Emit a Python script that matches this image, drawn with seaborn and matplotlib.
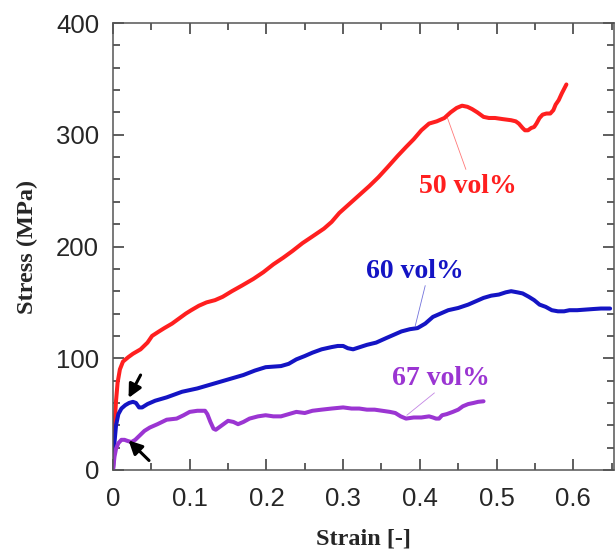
import numpy as np
import pandas as pd
import seaborn as sns
import matplotlib.pyplot as plt
from matplotlib.ticker import MultipleLocator

# Stress-strain curves
strain_50 = [0, 0.002, 0.004, 0.006, 0.009, 0.013, 0.02, 0.026, 0.036, 0.045, 0.051, 0.06, 0.067, 0.077, 0.087,
             0.095, 0.102, 0.112, 0.122, 0.133, 0.143, 0.155, 0.168, 0.183, 0.196, 0.209, 0.222, 0.234, 0.247,
             0.260, 0.275, 0.285, 0.295, 0.308, 0.321, 0.334, 0.346, 0.358, 0.371, 0.382, 0.392, 0.402, 0.412,
             0.422, 0.432, 0.440, 0.448, 0.455, 0.462, 0.468, 0.475, 0.483, 0.490, 0.498, 0.508, 0.519, 0.525,
             0.529, 0.534, 0.537, 0.541, 0.545, 0.549, 0.552, 0.556, 0.560, 0.565, 0.570, 0.574, 0.577, 0.581,
             0.585, 0.588, 0.591]
stress_50 = [0, 40, 62, 78, 90, 97, 101, 104, 108, 114, 120, 124, 127, 131, 136,
             140, 143, 147, 150, 152, 155, 160, 165, 171, 177, 184, 190, 196, 203,
             209, 216, 222, 230, 238, 246, 254, 262, 271, 281, 289, 296, 304, 310,
             312, 315, 320, 324, 326, 325, 323, 320, 316, 315, 315, 314, 313, 312,
             310, 306, 304, 304, 306, 307, 310, 315, 318, 319, 319, 322, 327, 331,
             337, 341, 345]

strain_60 = [0, 0.002, 0.004, 0.007, 0.011, 0.016, 0.021, 0.026, 0.030, 0.034, 0.038, 0.045, 0.055, 0.07,
             0.09, 0.11, 0.13, 0.15, 0.17, 0.185, 0.199, 0.219, 0.229, 0.239, 0.250, 0.260, 0.272, 0.285,
             0.293, 0.300, 0.306, 0.313, 0.322, 0.331, 0.343, 0.356, 0.366, 0.376, 0.387, 0.397, 0.407,
             0.417, 0.427, 0.437, 0.450, 0.463, 0.473, 0.483, 0.493, 0.503, 0.512, 0.519, 0.527, 0.534,
             0.542, 0.549, 0.556, 0.564, 0.572, 0.580, 0.588, 0.595, 0.605, 0.615, 0.625, 0.636, 0.648]
stress_60 = [0, 25, 40, 50, 55, 58, 60, 61, 60, 56, 56, 59, 62, 65,
             70, 73, 77, 81, 85, 89, 92, 93, 95, 99, 102, 105, 108, 110,
             111, 111, 109, 108, 110, 112, 114, 118, 121, 124, 126, 127, 131,
             137, 140, 143, 145, 148, 151, 154, 156, 157, 159, 160, 159, 158,
             155, 152, 148, 146, 143, 142, 142, 143, 143, 143.5, 144, 144.5, 144.5]

strain_67 = [0, 0.002, 0.004, 0.007, 0.011, 0.015, 0.019, 0.024, 0.029, 0.035, 0.041, 0.048, 0.058, 0.07,
             0.083, 0.092, 0.1, 0.11, 0.12, 0.123, 0.127, 0.131, 0.134, 0.138, 0.144, 0.150, 0.157, 0.163,
             0.170, 0.178, 0.189, 0.199, 0.209, 0.219, 0.229, 0.239, 0.250, 0.260, 0.272, 0.285, 0.300,
             0.311, 0.321, 0.331, 0.341, 0.351, 0.361, 0.368, 0.375, 0.382, 0.392, 0.402, 0.412, 0.417,
             0.421, 0.425, 0.429, 0.435, 0.443, 0.450, 0.456, 0.463, 0.470, 0.476, 0.483]
stress_67 = [0, 12, 19, 24, 27, 27, 26, 25, 27, 31, 35, 38, 41, 45,
             46, 49, 52, 53, 53, 50, 43, 37, 36, 38, 41, 44, 43, 41,
             43, 46, 48, 49, 48, 48, 50, 52, 51, 53, 54, 55, 56,
             55, 55, 54, 54, 53, 52, 51, 48, 46, 47, 47, 48, 47,
             46, 46, 49, 50, 52, 54, 57, 59, 60, 61, 61.5]

series_labels = ["50 vol%", "60 vol%", "67 vol%"]
series_colors = ["#ff1f1f", "#1414c4", "#9b35d2"]

df = pd.concat([
    pd.DataFrame({"strain": strain_50, "stress": stress_50, "series": series_labels[0]}),
    pd.DataFrame({"strain": strain_60, "stress": stress_60, "series": series_labels[1]}),
    pd.DataFrame({"strain": strain_67, "stress": stress_67, "series": series_labels[2]}),
], ignore_index=True)

sns.set_style("ticks")
plt.rcParams["font.family"] = ["Liberation Sans", "DejaVu Sans"]

fig = plt.figure(figsize=(6.15, 5.49), dpi=100)
ax = fig.add_axes([0.1837, 0.1439, 0.8146, 0.8142])

sns.lineplot(data=df, x="strain", y="stress", hue="series", hue_order=series_labels,
             palette=series_colors, sort=False, estimator=None, linewidth=2.9,
             legend=False, ax=ax)

ax.set_xlim(0, 0.653)
ax.set_ylim(0, 400)
ax.xaxis.set_major_locator(MultipleLocator(0.1))
ax.xaxis.set_minor_locator(MultipleLocator(0.05))
ax.yaxis.set_major_locator(MultipleLocator(100))
ax.yaxis.set_minor_locator(MultipleLocator(20))
ax.xaxis.set_major_formatter(plt.FuncFormatter(lambda v, p: "0" if abs(v) < 1e-9 else f"{v:.1f}"))
ax.tick_params(which="both", direction="in", top=True, right=True, color="#333333", width=1.1)
ax.tick_params(which="major", length=8, labelsize=18.5)
ax.tick_params(axis="x", which="major", pad=12)
ax.tick_params(axis="y", which="major", pad=10)
ax.tick_params(which="minor", length=5)
for s in ax.spines.values():
    s.set_color("#555555")
    s.set_linewidth(1.1)

ax.set_xlabel("Strain [-]", family="Liberation Serif", fontweight="bold", fontsize=17.5, labelpad=13)
ax.set_ylabel("Stress (MPa)", family="Liberation Serif", fontweight="bold", fontsize=17.5, labelpad=13)

# curve labels with thin leader lines
ann = [("50 vol%", (0.463, 254), (0.46, 269), (0.436, 315)),
       ("60 vol%", (0.394, 178), (0.407, 165), (0.394, 129)),
       ("67 vol%", (0.427, 82), (0.419, 69), (0.383, 49))]
for (txt, tpos, p0, p1), col in zip(ann, series_colors):
    ax.text(*tpos, txt, color=col, family="Liberation Serif", fontweight="bold",
            fontsize=20, ha="center", va="center")
    ax.plot([p0[0], p1[0]], [p0[1], p1[1]], color=col, lw=0.6, alpha=0.6)

# arrows marking the yield points
ax.annotate("", xy=(0.0203, 64.5), xytext=(0.036, 85),
            arrowprops=dict(arrowstyle="-|>", color="black", lw=2.2, mutation_scale=20,
                            shrinkA=0, shrinkB=0))
ax.annotate("", xy=(0.0203, 26.5), xytext=(0.047, 8.5),
            arrowprops=dict(arrowstyle="-|>", color="black", lw=2.2, mutation_scale=20,
                            shrinkA=0, shrinkB=0))

fig.savefig("out.png", dpi=100)
